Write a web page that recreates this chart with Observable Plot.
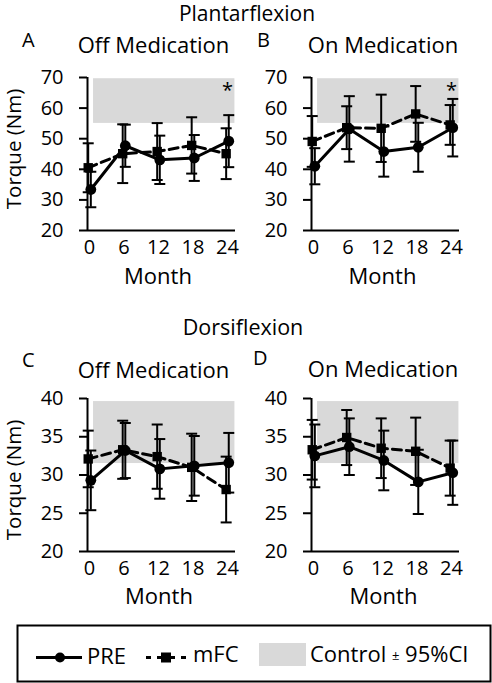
<!DOCTYPE html>
<html><head><meta charset="utf-8">
<script src="https://cdn.jsdelivr.net/npm/d3@7"></script>
<script src="https://cdn.jsdelivr.net/npm/@observablehq/plot@0.6"></script>
<style>
body{margin:0;background:#fff;font-family:"Open Sans",sans-serif;}
#root{position:relative;width:492px;height:683px;overflow:hidden;background:#fff;}
.panel{position:absolute;}
#overlay{position:absolute;left:0;top:0;pointer-events:none;}
</style></head><body><div id="root"></div>
<script>
// ---- data ----
const months = [0, 6, 12, 18, 24];
const monthTicks = [0, 6, 12, 18, 24];
const plantarTicks = [20, 30, 40, 50, 60, 70];
const dorsiTicks = [20, 25, 30, 35, 40];

const plantarOffPre = [33.4, 47.7, 43.1, 43.7, 49.2];
const plantarOffPreSD = [5.8, 6.9, 7.9, 7.5, 8.5];
const plantarOffMfc = [40.5, 45.1, 45.8, 47.8, 45.1];
const plantarOffMfcSD = [8.0, 9.6, 9.3, 9.2, 8.3];

const plantarOnPre = [41.0, 53.2, 45.8, 47.2, 53.6];
const plantarOnPreSD = [5.9, 10.7, 8.2, 8.0, 9.4];
const plantarOnMfc = [49.1, 53.6, 53.4, 58.1, 54.5];
const plantarOnMfcSD = [8.3, 7.0, 11.0, 9.1, 6.5];

const dorsiOffPre = [29.3, 33.2, 30.8, 31.2, 31.6];
const dorsiOffPreSD = [3.9, 3.6, 3.9, 3.9, 3.9];
const dorsiOffMfc = [32.1, 33.3, 32.4, 31.0, 28.1];
const dorsiOffMfcSD = [3.7, 3.8, 4.2, 4.4, 4.3];

const dorsiOnPre = [32.5, 33.7, 31.9, 29.1, 30.3];
const dorsiOnPreSD = [4.1, 3.7, 3.9, 4.2, 4.2];
const dorsiOnMfc = [33.3, 34.9, 33.5, 33.1, 30.9];
const dorsiOnMfcSD = [3.9, 3.6, 3.9, 4.4, 3.6];

const plantarControl = [55.0, 69.6];   // control ± 95% CI
const dorsiControl = [31.5, 39.6];
const plantarOffSig = [24];
const plantarOnSig = [24];
const dorsiOffSig = [];
const dorsiOnSig = [];

// ---- style constants ----
const FONT = "Open Sans";
const xDomain = [-0.35, 25.4];
const bandSpan = [0.7, 25.3];
const capSymbol = {draw(ctx, size) { const w = Math.sqrt(size / Math.PI); ctx.moveTo(-w, 0); ctx.lineTo(w, 0); }};

function rows(vals, sds) { return months.map((m, i) => ({month: m, v: vals[i], sd: sds[i]})); }

function panel({pre, preSD, mfc, mfcSD, control, yDomain, yTicks, sig, left, top}) {
  const P = rows(pre, preSD), M = rows(mfc, mfcSD);
  const series = [{d: M, dx: -1.3}, {d: P, dx: 1.3}];
  const marks = [
    Plot.rect([control], {x1: () => bandSpan[0], x2: () => bandSpan[1], y1: d => d[0], y2: d => d[1], fill: "#d9d9d9"})
  ];
  for (const s of series) {
    marks.push(Plot.ruleX(s.d, {x: "month", y1: d => d.v - d.sd, y2: d => d.v + d.sd, stroke: "black", strokeWidth: 2, dx: s.dx}));
    marks.push(Plot.dot(s.d, {x: "month", y: d => d.v - d.sd, symbol: capSymbol, r: 5.5, stroke: "black", strokeWidth: 2, fill: "none", dx: s.dx}));
    marks.push(Plot.dot(s.d, {x: "month", y: d => d.v + d.sd, symbol: capSymbol, r: 5.5, stroke: "black", strokeWidth: 2, fill: "none", dx: s.dx}));
  }
  marks.push(Plot.line(M, {x: "month", y: "v", stroke: "black", strokeWidth: 3, strokeDasharray: "9,5", dx: -1.3}));
  marks.push(Plot.line(P, {x: "month", y: "v", stroke: "black", strokeWidth: 3, dx: 1.3}));
  marks.push(Plot.dot(M, {x: "month", y: "v", symbol: "square", r: 5.3, fill: "black", stroke: "none", dx: -1.3}));
  marks.push(Plot.dot(P, {x: "month", y: "v", symbol: "circle", r: 5.4, fill: "black", stroke: "none", dx: 1.3}));
  marks.push(Plot.text(sig, {x: d => d, y: () => yDomain[1], text: () => "*", fontSize: 20, dy: 13, fill: "black"}));
  marks.push(Plot.ruleX([xDomain[0]], {stroke: "black", strokeWidth: 2}));
  marks.push(Plot.ruleY([yDomain[0]], {stroke: "black", strokeWidth: 2}));
  marks.push(Plot.axisY({ticks: yTicks, tickSize: 8, tickPadding: 16, strokeWidth: 2, label: null, tickFormat: d => String(d)}));
  marks.push(Plot.axisX({ticks: monthTicks, tickSize: 0, tickPadding: 9, label: null, tickFormat: d => String(d)}));
  const svg = Plot.plot({
    width: 245, height: 240,
    marginLeft: 87, marginRight: 10, marginTop: 17, marginBottom: 70,
    x: {domain: xDomain},
    y: {domain: yDomain},
    style: {fontFamily: FONT, fontSize: "20px", color: "#000", background: "transparent", overflow: "visible"},
    marks
  });
  svg.classList.add("panel");
  svg.style.left = left + "px";
  svg.style.top = top + "px";
  svg.style.position = "absolute";
  document.getElementById("root").appendChild(svg);
}

panel({pre: plantarOffPre, preSD: plantarOffPreSD, mfc: plantarOffMfc, mfcSD: plantarOffMfcSD, control: plantarControl, yDomain: [20, 70], yTicks: plantarTicks, sig: plantarOffSig, left: 0, top: 60});
panel({pre: plantarOnPre, preSD: plantarOnPreSD, mfc: plantarOnMfc, mfcSD: plantarOnMfcSD, control: plantarControl, yDomain: [20, 70], yTicks: plantarTicks, sig: plantarOnSig, left: 224, top: 60});
panel({pre: dorsiOffPre, preSD: dorsiOffPreSD, mfc: dorsiOffMfc, mfcSD: dorsiOffMfcSD, control: dorsiControl, yDomain: [20, 40], yTicks: dorsiTicks, sig: dorsiOffSig, left: 0, top: 381});
panel({pre: dorsiOnPre, preSD: dorsiOnPreSD, mfc: dorsiOnMfc, mfcSD: dorsiOnMfcSD, control: dorsiControl, yDomain: [20, 40], yTicks: dorsiTicks, sig: dorsiOnSig, left: 224, top: 381});

// ---- overlay text & legend ----
const ov = d3.select("#root").append("svg").attr("id", "overlay").attr("width", 492).attr("height", 683)
  .style("font-family", FONT);
const texts = [
  {t: "Plantarflexion", x: 247, y: 20.5, a: "middle", s: 21},
  {t: "A", x: 22, y: 47, a: "start", s: 20},
  {t: "Off Medication", x: 153.5, y: 53, a: "middle", s: 22},
  {t: "B", x: 257, y: 47, a: "start", s: 20},
  {t: "On Medication", x: 383, y: 53, a: "middle", s: 22},
  {t: "Month", x: 158, y: 284, a: "middle", s: 22},
  {t: "Month", x: 382.5, y: 284, a: "middle", s: 22},
  {t: "Dorsiflexion", x: 243, y: 334.5, a: "middle", s: 21.5},
  {t: "C", x: 22, y: 367, a: "start", s: 20},
  {t: "Off Medication", x: 153.5, y: 378, a: "middle", s: 22},
  {t: "D", x: 253, y: 365, a: "start", s: 20},
  {t: "On Medication", x: 383, y: 377, a: "middle", s: 22},
  {t: "Month", x: 159, y: 603.5, a: "middle", s: 22},
  {t: "Month", x: 383.5, y: 603.5, a: "middle", s: 22}
];
ov.selectAll("text.t").data(texts).join("text").attr("class", "t")
  .attr("x", d => d.x).attr("y", d => d.y).attr("text-anchor", d => d.a)
  .attr("font-size", d => d.s).attr("fill", "black").text(d => d.t);
for (const cy of [149, 480]) {
  ov.append("text").attr("transform", `translate(20.5,${cy}) rotate(-90)`).attr("text-anchor", "middle")
    .attr("font-size", 20.5).attr("fill", "black").text("Torque (Nm)");
}
// legend
const lg = ov.append("g");
lg.append("rect").attr("x", 17.5).attr("y", 625.5).attr("width", 473).attr("height", 56).attr("fill", "none").attr("stroke", "black").attr("stroke-width", 2);
lg.append("line").attr("x1", 36).attr("x2", 82).attr("y1", 657.5).attr("y2", 657.5).attr("stroke", "black").attr("stroke-width", 3);
lg.append("circle").attr("cx", 60).attr("cy", 657.5).attr("r", 5).attr("fill", "black");
lg.append("text").attr("x", 87).attr("y", 664).attr("font-size", 22).text("PRE");
lg.append("line").attr("x1", 146).attr("x2", 186).attr("y1", 657.5).attr("y2", 657.5).attr("stroke", "black").attr("stroke-width", 3).attr("stroke-dasharray", "5,6,18,6,5");
lg.append("rect").attr("x", 161).attr("y", 652.5).attr("width", 10).attr("height", 10).attr("fill", "black");
lg.append("text").attr("x", 193).attr("y", 662).attr("font-size", 22).text("mFC");
lg.append("rect").attr("x", 259).attr("y", 643).attr("width", 47).attr("height", 23).attr("fill", "#d9d9d9");
const ct = lg.append("text").attr("x", 310).attr("y", 662).attr("font-size", 22);
ct.append("tspan").text("Control ");
ct.append("tspan").attr("font-size", 13).attr("dy", -2).text("±");
ct.append("tspan").attr("dy", 2).text(" 95%CI");
</script></body></html>
